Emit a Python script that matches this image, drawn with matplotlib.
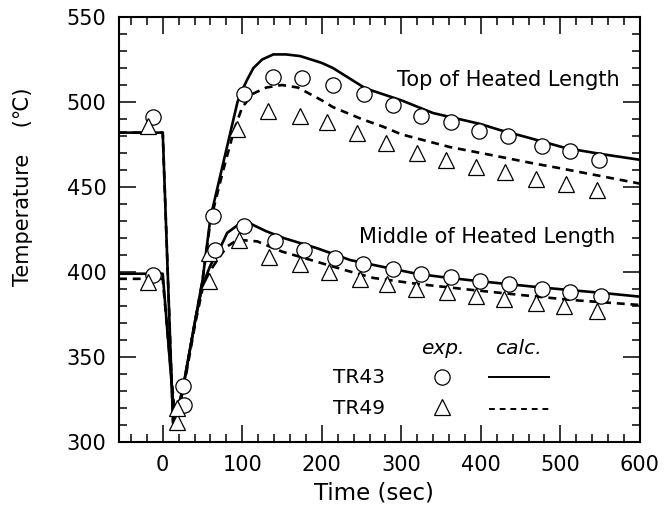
import matplotlib
matplotlib.use("Agg")
import matplotlib.pyplot as plt
from matplotlib.ticker import MultipleLocator

plt.rcParams['font.family'] = ['DejaVu Sans']

# ---------------------------------------------------------------- data ---- #
# experiment, TR43 (circles) / TR49 (triangles)
top_exp_t = [-12, 26, 63, 102, 139, 175, 214, 253, 289, 325, 362, 398, 434, 477, 512, 549]
top_exp_T = [491, 333, 433, 505, 515, 514, 510, 505, 498, 492, 488, 483, 480, 474, 471, 466]
top_tri_t = [-19, 18, 58, 94, 132, 172, 206, 244, 281, 320, 356, 394, 430, 469, 507, 546]
top_tri_T = [486, 312, 411, 484, 495, 492, 488, 482, 476, 470, 466, 462, 459, 455, 452, 448]

mid_exp_t = [-12, 27, 66, 102, 141, 177, 216, 252, 289, 325, 362, 399, 436, 477, 512, 551]
mid_exp_T = [398, 322, 413, 427, 418, 413, 408, 405, 402, 399, 397, 395, 393, 390, 388, 386]
mid_tri_t = [-19, 18, 58, 96, 133, 173, 209, 248, 282, 318, 357, 394, 429, 469, 505, 546]
mid_tri_T = [394, 320, 395, 419, 409, 405, 400, 396, 393, 390, 388, 386, 384, 382, 380, 377]

# calculation
top_calc_t = [-55, 0, 13, 20, 26, 41, 50, 60, 75, 94, 100, 106, 114, 125, 139, 155, 173,
              200, 214, 255, 300, 340, 400, 424, 460, 506, 550, 600]
top_calc_T = [482, 482, 311, 318, 333, 372, 395, 432, 462, 500, 507, 513, 520, 525, 528, 528, 527,
              523, 520, 508, 501, 493.5, 487, 483.5, 479, 473, 469.5, 466]
top_calc2_t = [-55, 0, 13, 20, 26, 41, 50, 60, 75, 90, 100, 114, 130, 150, 170, 200, 214,
               250, 277, 300, 361, 400, 465, 500, 550, 600]
top_calc2_T = [482, 482, 312, 318, 333, 372, 395, 430, 458, 484, 497, 505, 508.5, 510, 508.5, 501, 497,
               490, 485.5, 481, 473.5, 470, 464, 461, 456.5, 452]

mid_calc_t = [-55, 0, 14, 20, 26, 41, 50, 60, 73, 81, 94, 110, 130, 152, 194, 236, 277,
              319, 352, 390, 474, 557, 600]
mid_calc_T = [399, 399, 318, 322, 333, 372, 392, 404, 415, 423, 427.5, 428.5, 424, 420, 414, 407, 403,
              399, 397, 395, 391, 387.5, 385.5]
mid_calc2_t = [-55, 0, 15, 20, 26, 41, 50, 60, 73, 81, 94, 119, 150, 194, 230, 265, 320,
               390, 450, 515, 600]
mid_calc2_T = [396, 396, 317, 320, 331, 370, 390, 401, 410, 415, 419, 418, 412, 406, 401, 396.5, 393,
               389.4, 386.5, 383.5, 380.6]

x_ticks = [0, 100, 200, 300, 400, 500, 600]
y_ticks = [300, 350, 400, 450, 500, 550]

# ---------------------------------------------------------------- plot ---- #
fig = plt.figure(figsize=(6.67, 5.11), dpi=100)
ax = fig.add_axes([0.1784, 0.135, 0.781, 0.8317])

lw = 1.9
ax.plot(top_calc_t, top_calc_T, color='black', lw=lw)
ax.plot(top_calc2_t, top_calc2_T, color='black', lw=lw, ls=(0, (3, 2.2)))
ax.plot(mid_calc_t, mid_calc_T, color='black', lw=lw)
ax.plot(mid_calc2_t, mid_calc2_T, color='black', lw=lw, ls=(0, (3, 2.2)))

mk = dict(ls='none', mfc='white', mec='black', mew=0.9, ms=11, zorder=3)
ax.plot(top_exp_t, top_exp_T, marker='o', **mk)
ax.plot(top_tri_t, top_tri_T, marker='^', **mk)
ax.plot(mid_exp_t, mid_exp_T, marker='o', **mk)
ax.plot(mid_tri_t, mid_tri_T, marker='^', **mk)

ax.set_xlim(-55, 600)
ax.set_ylim(300, 550)
ax.set_xticks(x_ticks)
ax.set_yticks(y_ticks)
ax.xaxis.set_minor_locator(MultipleLocator(20))
ax.yaxis.set_minor_locator(MultipleLocator(10))
ax.tick_params(which='both', direction='in', top=True, right=True, width=1.1, labelsize=15)
ax.tick_params(which='major', length=12, pad=9)
ax.tick_params(which='minor', length=6)
for s in ax.spines.values():
    s.set_linewidth(1.5)

ax.set_xlabel('Time (sec)', fontsize=16.5)
ax.xaxis.set_label_coords(0.489, -0.094)
ax.set_ylabel('Temperature    (\u2103)', fontsize=15)
ax.yaxis.set_label_coords(-0.165, 0.6)

ax.text(574, 513, 'Top of Heated Length', fontsize=15, ha='right', va='center')
ax.text(569, 420.6, 'Middle of Heated Length', fontsize=15, ha='right', va='center')

# legend table (exp. / calc.)
ax.text(0.621, 0.22, 'exp.', transform=ax.transAxes, fontsize=14.5, ha='center', va='center', style='italic')
ax.text(0.766, 0.22, 'calc.', transform=ax.transAxes, fontsize=14.5, ha='center', va='center', style='italic')
ax.text(0.411, 0.152, 'TR43', transform=ax.transAxes, fontsize=14.5, ha='left', va='center')
ax.text(0.411, 0.078, 'TR49', transform=ax.transAxes, fontsize=14.5, ha='left', va='center')
ax.plot([0.621], [0.154], transform=ax.transAxes, marker='o', **mk)
ax.plot([0.621], [0.082], transform=ax.transAxes, marker='^', **mk)
ax.plot([0.711, 0.826], [0.154, 0.154], transform=ax.transAxes, color='black', lw=1.4)
ax.plot([0.711, 0.826], [0.078, 0.078], transform=ax.transAxes, color='black', lw=1.4, ls=(0, (3, 2.5)))

fig.savefig('out.png', dpi=100)
